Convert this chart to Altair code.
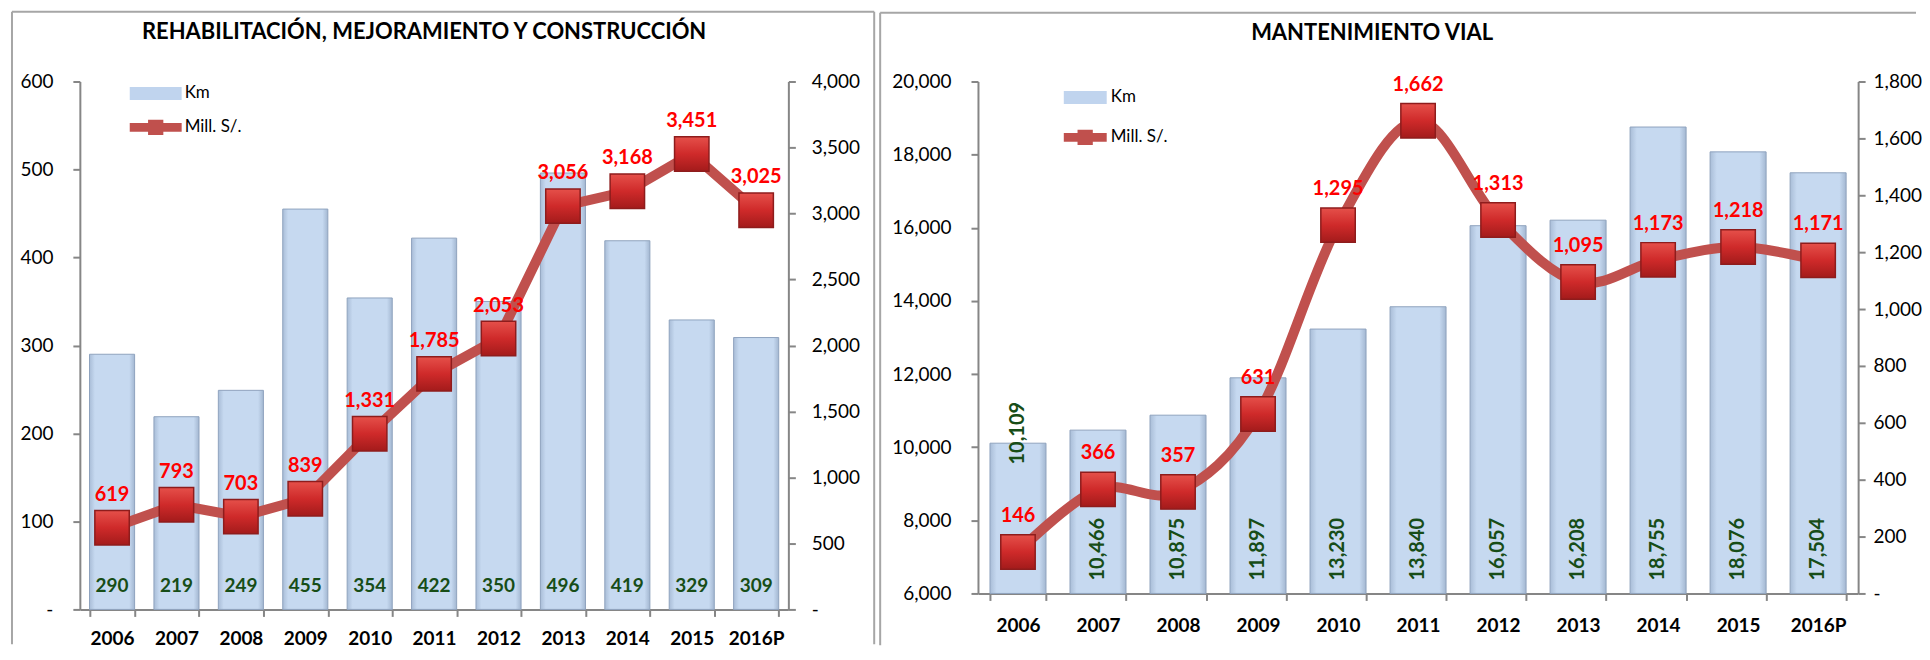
import altair as alt
import pandas as pd

# ---------------- data ----------------
years = ["2006", "2007", "2008", "2009", "2010", "2011", "2012", "2013", "2014", "2015", "2016P"]
rmc_km = [290, 219, 249, 455, 354, 422, 350, 496, 419, 329, 309]
rmc_mill = [619, 793, 703, 839, 1331, 1785, 2053, 3056, 3168, 3451, 3025]
mv_km = [10109, 10466, 10875, 11897, 13230, 13840, 16057, 16208, 18755, 18076, 17504]
mv_mill = [146, 366, 357, 631, 1295, 1662, 1313, 1095, 1173, 1218, 1171]

rmc_km_ticks = [0, 100, 200, 300, 400, 500, 600]
rmc_mill_ticks = [0, 500, 1000, 1500, 2000, 2500, 3000, 3500, 4000]
mv_km_ticks = [6000, 8000, 10000, 12000, 14000, 16000, 18000, 20000]
mv_mill_ticks = [0, 200, 400, 600, 800, 1000, 1200, 1400, 1600, 1800]

title_rmc = "REHABILITACIÓN, MEJORAMIENTO Y CONSTRUCCIÓN"
title_mv = "MANTENIMIENTO VIAL"
series = ["Km", "Mill. S/."]

# ---------------- style ----------------
FONT = "Lato"
GRAY = "#868686"
FRAME = "#A6A6A6"
GREEN = "#174D17"
LINE_RED = "#C0504D"
BAR_FILL = alt.Gradient(
    gradient="linear", x1=0, x2=1, y1=0, y2=0,
    stops=[alt.GradientStop(offset=0, color="#A9BDD7"),
           alt.GradientStop(offset=0.12, color="#C6D9F0"),
           alt.GradientStop(offset=0.88, color="#C6D9F0"),
           alt.GradientStop(offset=1, color="#A3B7D1")])
MARK_FILL = alt.Gradient(
    gradient="linear", x1=0, x2=0, y1=0, y2=1,
    stops=[alt.GradientStop(offset=0, color="#E5504A"),
           alt.GradientStop(offset=0.5, color="#CF2A2A"),
           alt.GradientStop(offset=1, color="#A31B1B")])

AX = dict(domainColor=GRAY, domainWidth=2, tickColor=GRAY, tickWidth=2, tickSize=7,
          labelFont=FONT, labelFontSize=19, labelColor="#000000", grid=False, title=None)
LEFT_EXPR = "datum.value == 0 ? '-\u00a0\u00a0\u00a0' : format(datum.value, ',')"
RIGHT_EXPR = "datum.value == 0 ? '\u00a0-' : format(datum.value, ',')"


def legend_paths(w):
    u = 17.0
    x2 = w / u - 1
    c = (x2 - 1) / 2
    km = f"M-1,-0.38H{x2:.2f}V0.38H-1Z"
    mill = (f"M-1,-0.26H{x2:.2f}V0.26H-1Z"
            f"M{c - 0.45:.2f},-0.45H{c + 0.45:.2f}V0.45H{c - 0.45:.2f}Z")
    return km, mill


def panel(km, mill, title, km_ticks, mill_ticks, km_dom, mill_dom, width, height,
          smooth, rotated, title_dx, x_pad, right_pad, leg_x, leg_y, leg_w, leg_lab, leg_row,
          red_dy, frame):
    df = pd.DataFrame({"year": years, "km": km, "mill": mill})
    base = alt.Chart(df)
    x = alt.X("year:N", sort=years,
              scale=alt.Scale(paddingInner=0.3, paddingOuter=0.15),
              axis=alt.Axis(title=None, labelAngle=0, labelFont=FONT, labelFontSize=19,
                            labelFontWeight="bold", labelColor="#000000", tickBand="extent",
                            tickSize=7, labelPadding=x_pad, domainColor=GRAY, domainWidth=2,
                            tickColor=GRAY, tickWidth=2, grid=False))
    y_km = alt.Y("km:Q", scale=alt.Scale(domain=km_dom, nice=False, zero=False),
                 axis=alt.Axis(orient="left", values=km_ticks, labelPadding=20,
                               labelExpr=LEFT_EXPR, **AX))
    bars = base.mark_bar(fill=BAR_FILL, stroke="#8FA3BE", strokeWidth=1).encode(
        x=x, y=y_km, y2=alt.datum(km_dom[0]))

    if not rotated:
        km_labels = [base.mark_text(font=FONT, fontSize=19, fontWeight="bold", color=GREEN,
                                    baseline="middle", dy=-23).encode(
            x=x, y=alt.datum(km_dom[0]), text=alt.Text("km:Q", format=","))]
    else:
        km_labels = [
            base.transform_filter(alt.datum.year != years[0]).mark_text(
                font=FONT, fontSize=20, fontWeight="bold", color=GREEN,
                angle=270, align="left", baseline="middle", dx=13).encode(
                x=x, y=alt.datum(km_dom[0]), text=alt.Text("km:Q", format=",")),
            base.transform_filter(alt.datum.year == years[0]).mark_text(
                font=FONT, fontSize=20, fontWeight="bold", color=GREEN,
                angle=270, align="center", baseline="middle", dx=10).encode(
                x=x, y=alt.Y("km:Q"), text=alt.Text("km:Q", format=",")),
        ]

    one = alt.Chart(pd.DataFrame({"k": [0]}))
    frames = [one.mark_rule(color=FRAME, strokeWidth=2).encode(
        x=alt.value(a), x2=alt.value(b), y=alt.value(c), y2=alt.value(d)) for a, b, c, d in frame]

    bar_group = alt.layer(bars, *km_labels, *frames)

    y_mill = alt.Y("mill:Q", scale=alt.Scale(domain=mill_dom, nice=False),
                   axis=alt.Axis(orient="right", values=mill_ticks, labelPadding=right_pad,
                                 labelExpr=RIGHT_EXPR, **AX))
    line = base.mark_line(color=LINE_RED, strokeWidth=10,
                          interpolate="cardinal" if smooth else "linear").encode(x=x, y=y_mill)
    markers = base.mark_square(fill=MARK_FILL, size=1190, opacity=1, stroke="#8E1C1C",
                               strokeWidth=1.5).encode(x=x, y=alt.Y("mill:Q"))
    mill_labels = base.mark_text(font=FONT, fontSize=20, fontWeight="bold", color="#FF0000",
                                 baseline="middle", dy=red_dy).encode(
        x=x, y=alt.Y("mill:Q"), text=alt.Text("mill:Q", format=","))

    # legend (an invisible layer that only carries the legend)
    km_path, mill_path = legend_paths(leg_w)
    legend = alt.Legend(
        title=None, orient="none", legendX=leg_x, legendY=leg_y, direction="vertical",
        symbolSize=1156, symbolStrokeWidth=0, symbolOpacity=1, padding=0,
        labelFont=FONT, labelFontSize=17, labelColor="#000000", labelOffset=leg_lab,
        rowPadding=leg_row)
    leg_layer = alt.Chart(pd.DataFrame({"serie": series})).mark_point(
        filled=True, opacity=0).encode(
        x=alt.value(0), y=alt.value(0),
        color=alt.Color("serie:N", scale=alt.Scale(domain=series, range=["#C0D4EE", LINE_RED]),
                        legend=legend),
        shape=alt.Shape("serie:N", scale=alt.Scale(domain=series, range=[km_path, mill_path]),
                        legend=legend))
    line_group = alt.layer(line, markers, mill_labels, leg_layer)

    return alt.layer(bar_group, line_group).resolve_scale(y="independent").properties(
        width=width, height=height,
        title=alt.TitleParams(text=title, font=FONT, fontSize=22, fontWeight="bold",
                              color="#000000", anchor="middle", dx=title_dx, offset=-33))


left = panel(rmc_km, rmc_mill, title_rmc, rmc_km_ticks, rmc_mill_ticks, [0, 600], [0, 4000],
             710, 529, smooth=False, rotated=False, title_dx=-10, x_pad=13, right_pad=16,
             leg_x=50, leg_y=-5, leg_w=52, leg_lab=21, leg_row=9, red_dy=-33,
             frame=[(-68, -68, -70, 564), (-68, 796, -70, -70), (796, 796, -70, 564)])
right = panel(mv_km, mv_mill, title_mv, mv_km_ticks, mv_mill_ticks, [6000, 20000], [0, 1800],
              882, 513, smooth=True, rotated=True, title_dx=-46, x_pad=16, right_pad=8,
              leg_x=86, leg_y=-1, leg_w=43, leg_lab=13, leg_row=15, red_dy=-36,
              frame=[(-98, -98, -69, 565), (-98, 940, -69, -69)])

chart = alt.hconcat(left, right, spacing=4).resolve_scale(
    color="independent", shape="independent").resolve_legend(
    color="independent", shape="independent").properties(
    padding={"left": 3, "top": 2, "right": 0, "bottom": 0}
).configure_view(stroke=None)

chart.save("out.html", embed_options={"renderer": "svg", "actions": False})
